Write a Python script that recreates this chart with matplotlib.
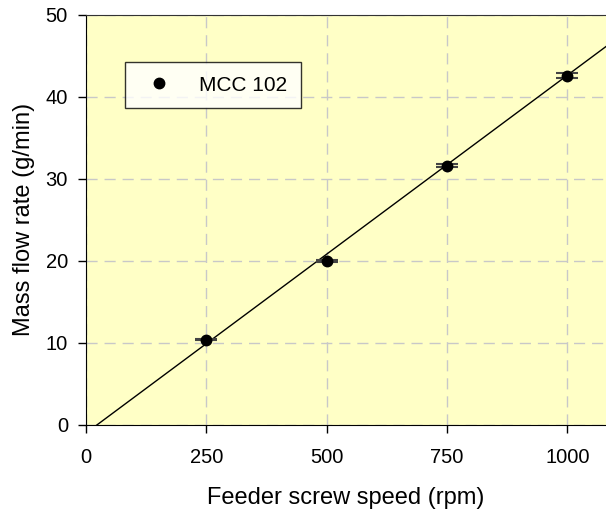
import matplotlib
matplotlib.use("Agg")
import matplotlib.pyplot as plt
import numpy as np

plt.rcParams['font.family'] = ['Liberation Sans', 'DejaVu Sans']

# Feeder calibration data
speed = [250, 500, 750, 1000]
flow = [10.4, 20.0, 31.6, 42.6]
flow_err = [0.1, 0.1, 0.2, 0.35]

# Linear fit shown across the whole axis
slope = 0.04365
intercept = -0.995

fig = plt.figure(figsize=(6.06, 5.15), dpi=100)
ax = fig.add_axes([0.142, 0.175, 0.858, 0.796])
ax.set_facecolor('#FFFFC6')

ax.set_xlim(0, 1080)
ax.set_ylim(0, 50)

xfit = np.array([0, 1080])
ax.plot(xfit, slope * xfit + intercept, color='black', lw=1, zorder=3)

ax.errorbar(speed, flow, yerr=flow_err, fmt='none', ecolor='#444444',
            elinewidth=1, capsize=8, capthick=1.5, zorder=4)
ax.plot(speed, flow, 'o', color='black', ms=7.5, label='MCC 102', zorder=5)

ax.set_xticks([0, 250, 500, 750, 1000])
ax.set_yticks([0, 10, 20, 30, 40, 50])
ax.tick_params(direction='out', length=6, width=1, labelsize=14.5)
ax.tick_params(axis='x', pad=11)
ax.tick_params(axis='y', pad=7)
ax.grid(True, color='#C8C8C8', linestyle=(0, (8, 5)), lw=1)
ax.set_axisbelow(True)

ax.spines['right'].set_visible(False)
ax.spines['top'].set_color('#333333')

ax.set_xlabel('Feeder screw speed (rpm)', fontsize=17, labelpad=14)
ax.set_ylabel('Mass flow rate (g/min)', fontsize=17, labelpad=8)

leg = ax.legend(loc='upper left', bbox_to_anchor=(0.075, 0.885), fancybox=False,
                edgecolor='black', fontsize=15, borderpad=0.65,
                handletextpad=0.9, handlelength=2.0, borderaxespad=0)
leg.get_frame().set_linewidth(1)

fig.savefig('out.png', dpi=100)
